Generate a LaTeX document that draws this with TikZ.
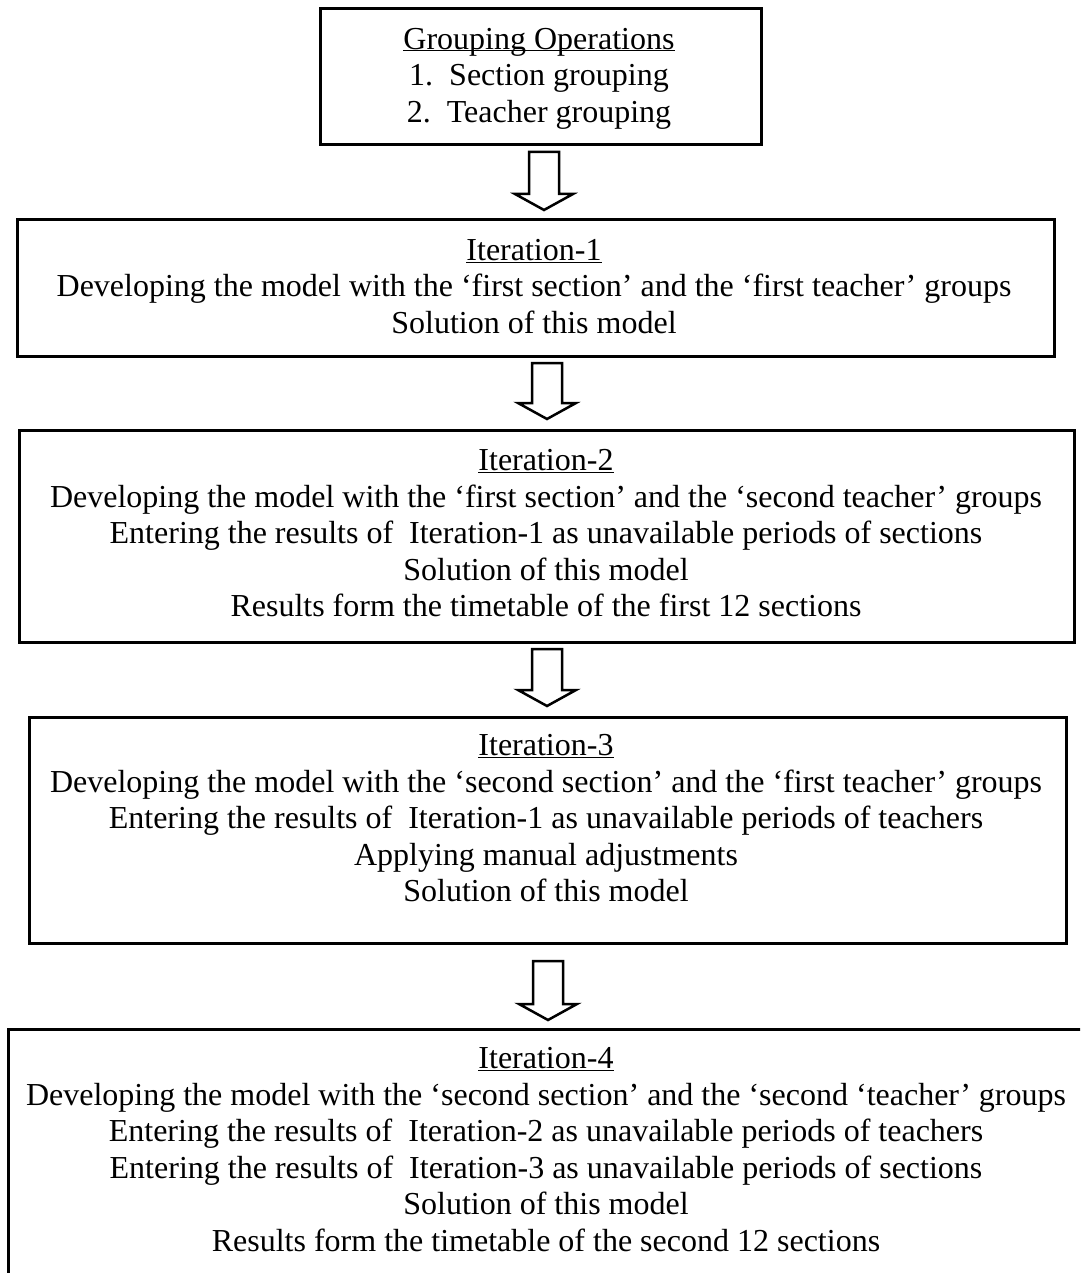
\documentclass[tikz,border=0pt]{standalone}
\usepackage{fontspec}
\setmainfont{Liberation Serif}
\usetikzlibrary{positioning}

\tikzstyle{stepbox} = [rectangle, draw=black, line width=3pt, inner sep=0pt]
\tikzstyle{steptext} = [align=center, inner sep=0pt, font=\fontsize{32}{36.5}\selectfont]
\tikzstyle{blockarrow} = [draw=black, line width=2.5pt, fill=white, line join=miter]

\newcommand{\ulhead}[1]{\underline{\smash{#1}}}

\begin{document}
\begin{tikzpicture}[x=1pt, y=-1pt]

    % Cornice
    \useasboundingbox (0,0) rectangle (1080,1273);
    \clip (0,0) rectangle (1080,1273);

    % Riquadri
    \node[stepbox, anchor=north west, minimum width=441pt, minimum height=136pt] (grpbox) at (319,7) {};
    \node[stepbox, anchor=north west, minimum width=1037pt, minimum height=137pt] (itonebox) at (16,218) {};
    \node[stepbox, anchor=north west, minimum width=1055pt, minimum height=212pt] (ittwobox) at (18,429) {};
    \node[stepbox, anchor=north west, minimum width=1037pt, minimum height=226pt] (itthreebox) at (28,716) {};
    \node[stepbox, anchor=north west, minimum width=1200pt, minimum height=400pt] (itfourbox) at (7,1028) {};

    % Frecce
    \foreach \cx/\ty/\tp in {544/152/210, 547/363/419, 547/649/706, 548/961/1020}
        \draw[blockarrow] (\cx-15,\ty) -- (\cx+15,\ty) -- (\cx+15,\tp-16) -- (\cx+29,\tp-16)
            -- (\cx,\tp) -- (\cx-29,\tp-16) -- (\cx-15,\tp-16) -- cycle;

    % Testi
    \node[steptext] (grp) at (539,89) {\ulhead{Grouping Operations}\\
        1.\ \ Section grouping\\
        2.\ \ Teacher grouping};
    \node[steptext] (itone) at (534,297) {\ulhead{Iteration-1}\\
        Developing the model with the ‘first section’ and the ‘first teacher’ groups\\
        Solution of this model};
    \node[steptext] (ittwo) at (546,544) {\ulhead{Iteration-2}\\
        Developing the model with the ‘first section’ and the ‘second teacher’ groups\\
        Entering the results of~ Iteration-1 as unavailable periods of sections\\
        Solution of this model\\
        Results form the timetable of the first 12 sections};
    \node[steptext] (itthree) at (546,829) {\ulhead{Iteration-3}\\
        Developing the model with the ‘second section’ and the ‘first teacher’ groups\\
        Entering the results of~ Iteration-1 as unavailable periods of teachers\\
        Applying manual adjustments\\
        Solution of this model};
    \node[steptext] (itfour) at (546,1160) {\ulhead{Iteration-4}\\
        Developing the model with the ‘second section’ and the ‘second ‘teacher’ groups\\
        Entering the results of~ Iteration-2 as unavailable periods of teachers\\
        Entering the results of~ Iteration-3 as unavailable periods of sections\\
        Solution of this model\\
        Results form the timetable of the second 12 sections};

\end{tikzpicture}
\end{document}
